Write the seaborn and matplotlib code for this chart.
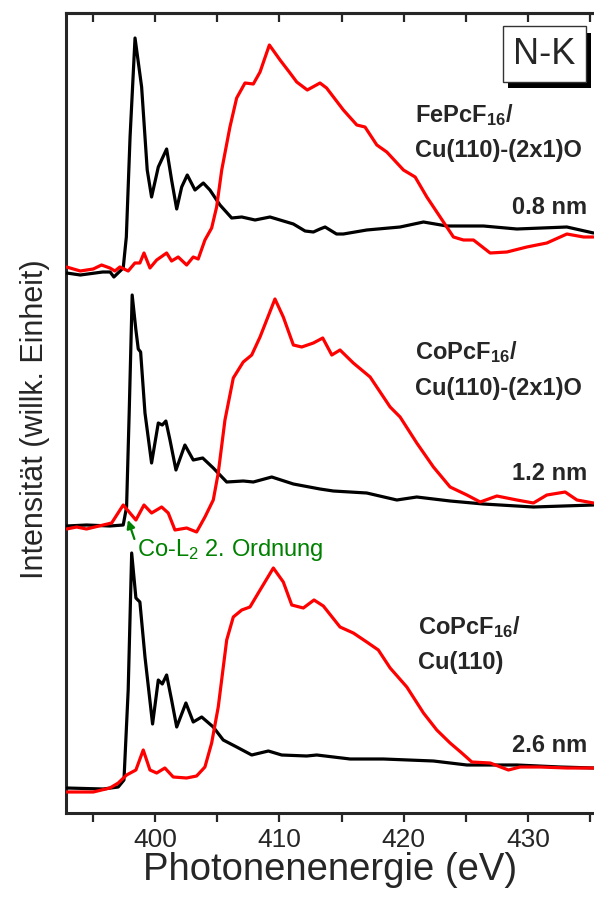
import numpy as np
import pandas as pd
import matplotlib
matplotlib.use("Agg")
import matplotlib.pyplot as plt
import matplotlib.patheffects as pe
import seaborn as sns
from matplotlib.ticker import MultipleLocator

# -------------------
# Spectra (photon energy in eV, intensity in arb. units)
# FePcF16 / Cu(110)-(2x1)O, 0.8 nm
fe_black_e = [392.9, 394.0, 395.8, 396.4, 396.7, 397.45, 397.7, 398.0, 398.4, 398.93,
              399.38, 399.73, 400.27, 400.94, 401.34, 401.75, 402.15, 402.6, 403.22, 403.89,
              404.42, 405.23, 406.17, 406.98, 408.05, 409.25, 411.13, 412.07, 412.74, 413.27,
              413.68, 414.6, 415.15, 417.03, 419.71, 421.59, 423.47, 426.41, 429.1, 433.12, 435.26]
fe_black_i = [0.00, -0.02, 0.01, 0.01, -0.04, 0.05, 0.36, 1.36, 2.35, 1.86,
              1.03, 0.76, 1.06, 1.24, 0.93, 0.64, 0.86, 0.98, 0.83, 0.90,
              0.83, 0.68, 0.55, 0.56, 0.53, 0.56, 0.49, 0.42, 0.41, 0.44,
              0.46, 0.39, 0.39, 0.43, 0.46, 0.51, 0.47, 0.47, 0.44, 0.46, 0.40]
fe_red_e = [392.9, 394.0, 395.04, 395.71, 396.38, 396.78, 397.18, 397.85, 398.39, 398.79,
            399.12, 399.6, 400.14, 400.94, 401.34, 401.87, 402.55, 403.08, 403.48, 404.02,
            404.56, 404.96, 405.37, 406.03, 406.57, 407.24, 407.91, 408.45, 409.2, 410.06,
            410.86, 411.4, 412.25, 413.27, 413.8, 415.15, 416.23, 416.89, 417.84, 418.64,
            419.98, 420.92, 421.86, 422.93, 424.0, 424.8, 425.61, 426.95, 428.3, 429.9,
            431.51, 433.12, 434.46, 435.26]
fe_red_i = [0.06, 0.02, 0.04, 0.08, 0.05, 0.02, 0.06, 0.02, 0.10, 0.10,
            0.20, 0.05, 0.13, 0.20, 0.12, 0.16, 0.08, 0.16, 0.14, 0.33,
            0.45, 0.66, 1.03, 1.46, 1.75, 1.90, 1.89, 2.01, 2.28, 2.13,
            2.00, 1.91, 1.83, 1.90, 1.85, 1.63, 1.48, 1.46, 1.28, 1.21,
            1.03, 0.96, 0.76, 0.56, 0.36, 0.33, 0.33, 0.20, 0.21, 0.26,
            0.30, 0.39, 0.36, 0.36]

# CoPcF16 / Cu(110)-(2x1)O, 1.2 nm
coo_black_e = [392.9, 394.5, 396.38, 397.45, 397.72, 397.93, 398.17, 398.47, 398.66, 398.85,
               399.2, 399.73, 400.27, 400.59, 400.88, 401.21, 401.69, 402.41, 403.08, 403.84,
               404.69, 405.77, 407.1, 407.91, 409.39, 411.13, 413.27, 414.34, 417.03, 419.45,
               421.05, 423.73, 426.41, 430.43, 435.26]
coo_black_i = [0.00, 0.01, 0.00, 0.01, 0.19, 1.13, 2.31, 1.96, 1.77, 1.74,
               1.13, 0.63, 1.03, 1.01, 1.05, 0.86, 0.56, 0.81, 0.66, 0.68,
               0.58, 0.44, 0.45, 0.44, 0.49, 0.42, 0.37, 0.35, 0.33, 0.26,
               0.29, 0.25, 0.22, 0.19, 0.21]
coo_red_e = [392.9, 393.7, 394.5, 395.84, 396.52, 397.45, 398.47, 399.12, 399.73, 400.54,
             401.07, 401.61, 402.55, 403.35, 404.02, 404.69, 405.09, 405.63, 406.3, 407.1,
             407.78, 408.45, 409.65, 410.32, 411.13, 411.8, 412.74, 413.49, 414.22, 414.88,
             415.95, 417.3, 418.91, 419.71, 421.05, 422.39, 423.73, 425.08, 426.15, 427.49,
             429.1, 430.43, 431.51, 432.98, 433.93, 435.26]
coo_red_i = [-0.03, -0.01, -0.03, 0.01, 0.03, 0.21, 0.06, 0.21, 0.13, 0.19,
             0.13, -0.04, -0.02, -0.06, 0.09, 0.26, 0.53, 1.06, 1.48, 1.64,
             1.71, 1.89, 2.27, 2.09, 1.81, 1.79, 1.83, 1.88, 1.71, 1.76,
             1.63, 1.49, 1.19, 1.09, 0.83, 0.59, 0.39, 0.31, 0.24, 0.30,
             0.26, 0.23, 0.31, 0.34, 0.26, 0.23]

# CoPcF16 / Cu(110), 2.6 nm
cocu_black_e = [392.9, 395.84, 397.05, 397.51, 397.85, 398.13, 398.47, 398.79, 399.2, 399.81,
                400.27, 400.59, 400.94, 401.34, 401.75, 402.49, 403.08, 403.76, 404.69, 405.49,
                406.57, 407.78, 409.12, 410.19, 412.2, 413.01, 415.69, 418.37, 422.39, 425.08,
                429.1, 432.58, 435.26]
cocu_black_i = [0.01, 0.00, 0.02, 0.09, 0.99, 2.36, 1.91, 1.87, 1.32, 0.65,
                1.09, 1.05, 1.14, 0.89, 0.62, 0.86, 0.67, 0.72, 0.62, 0.49,
                0.42, 0.34, 0.38, 0.34, 0.33, 0.34, 0.30, 0.30, 0.28, 0.24,
                0.24, 0.22, 0.21]
cocu_red_e = [392.9, 395.04, 396.38, 397.05, 397.72, 398.47, 399.06, 399.6, 400.14, 400.8,
              401.47, 402.55, 403.35, 404.02, 404.56, 405.09, 405.77, 406.3, 406.98, 407.64,
              408.31, 409.52, 410.32, 411.0, 411.93, 412.79, 413.54, 414.88, 415.95, 417.03,
              417.96, 418.91, 420.25, 421.59, 422.66, 423.73, 424.67, 425.48, 426.95, 428.42,
              429.36, 430.97, 433.12, 435.26]
cocu_red_i = [-0.03, -0.03, 0.01, 0.06, 0.14, 0.19, 0.39, 0.19, 0.16, 0.21,
              0.12, 0.11, 0.13, 0.22, 0.46, 0.82, 1.49, 1.72, 1.79, 1.82,
              1.96, 2.21, 2.07, 1.84, 1.81, 1.89, 1.83, 1.62, 1.56, 1.47,
              1.39, 1.21, 1.02, 0.76, 0.59, 0.46, 0.36, 0.27, 0.26, 0.19,
              0.22, 0.22, 0.21, 0.21]

sample_first = ["FePcF$_\\mathbf{16}$/", "CoPcF$_\\mathbf{16}$/", "CoPcF$_\\mathbf{16}$/"]
sample_second = ["Cu(110)-(2x1)O", "Cu(110)-(2x1)O", "Cu(110)"]
thickness = ["0.8 nm", "1.2 nm", "2.6 nm"]

# -------------------
# Style
sns.set_style("ticks")
plt.rcParams['font.family'] = ['Liberation Sans', 'DejaVu Sans']
plt.rcParams['mathtext.fontset'] = 'custom'
plt.rcParams['mathtext.rm'] = 'Liberation Sans'
plt.rcParams['mathtext.bf'] = 'Liberation Sans:bold'
plt.rcParams['mathtext.it'] = 'Liberation Sans:italic'

fig = plt.figure(figsize=(5.94, 8.99), dpi=100)
ax = fig.add_axes([66 / 594, 86 / 899, 528 / 594, 800 / 899])

offsets = [5.40, 2.87, 0.24]
spectra = [(fe_black_e, fe_black_i, fe_red_e, fe_red_i),
           (coo_black_e, coo_black_i, coo_red_e, coo_red_i),
           (cocu_black_e, cocu_black_i, cocu_red_e, cocu_red_i)]

for (be, bi, re_, ri), off in zip(spectra, offsets):
    black_df = pd.DataFrame({'E': be, 'I': np.array(bi) + off})
    red_df = pd.DataFrame({'E': re_, 'I': np.array(ri) + off})
    sns.lineplot(data=black_df, x='E', y='I', ax=ax, color='black', lw=2.3,
                 sort=False, estimator=None, zorder=3)
    sns.lineplot(data=red_df, x='E', y='I', ax=ax, color='#ff0000', lw=2.3,
                 sort=False, estimator=None, zorder=4)

ax.set_xlim(392.85, 435.3)
ax.set_ylim(0, 8.0)
ax.set_yticks([])

for s in ['left', 'bottom', 'top']:
    ax.spines[s].set_linewidth(2.2)
ax.spines['right'].set_visible(False)

ax.xaxis.set_major_locator(MultipleLocator(10))
ax.xaxis.set_minor_locator(MultipleLocator(5))
ax.tick_params(axis='x', which='both', direction='out', length=6.5, width=1.6,
               labelsize=19, pad=4)

top = ax.secondary_xaxis('top')
top.xaxis.set_major_locator(MultipleLocator(10))
top.xaxis.set_minor_locator(MultipleLocator(5))
top.tick_params(axis='x', which='both', direction='in', length=6.5, width=1.6,
                labeltop=False)
top.spines['top'].set_linewidth(2.2)

ax.set_xlabel("Photonenenergie (eV)", fontsize=27.5, labelpad=0)
ax.set_ylabel("Intensität (willk. Einheit)", fontsize=22)
ax.yaxis.set_label_coords(-0.030, 0.4925)

# sample labels
label_y = [(6.98, 6.63, 6.06), (4.61, 4.25, 3.40), (1.86, 1.50, 0.68)]
label_x = [420.92, 420.92, 421.16]
for first, second, thick, (y1, y2, y3), lx in zip(sample_first, sample_second, thickness,
                                                   label_y, label_x):
    ax.text(lx, y1, first, fontsize=17, fontweight='bold', ha='left', va='center')
    ax.text(lx, y2, second, fontsize=17, fontweight='bold', ha='left', va='center')
    ax.text(434.76, y3, thick, fontsize=17, fontweight='bold', ha='right', va='center')

# N-K box with drop shadow
nk = ax.text(431.3, 7.59, "N-K", fontsize=26, ha='center', va='center', zorder=6,
             bbox=dict(boxstyle='square,pad=0.28', fc='white', ec='#333333', lw=1))
nk.get_bbox_patch().set_path_effects([
    pe.SimplePatchShadow(offset=(3.8, -4.5), shadow_rgbFace='black', alpha=1.0),
    pe.Normal()])

# Co-L2 annotation
ax.annotate("", xy=(397.83, 2.93), xytext=(398.35, 2.74),
            arrowprops=dict(arrowstyle='-|>', color='#008000', lw=1.6,
                            mutation_scale=12, shrinkA=0, shrinkB=0))
ax.text(398.55, 2.63, "Co-L$_2$ 2. Ordnung", fontsize=17, color='#008000',
        ha='left', va='center')

fig.savefig("out.png", dpi=100)
